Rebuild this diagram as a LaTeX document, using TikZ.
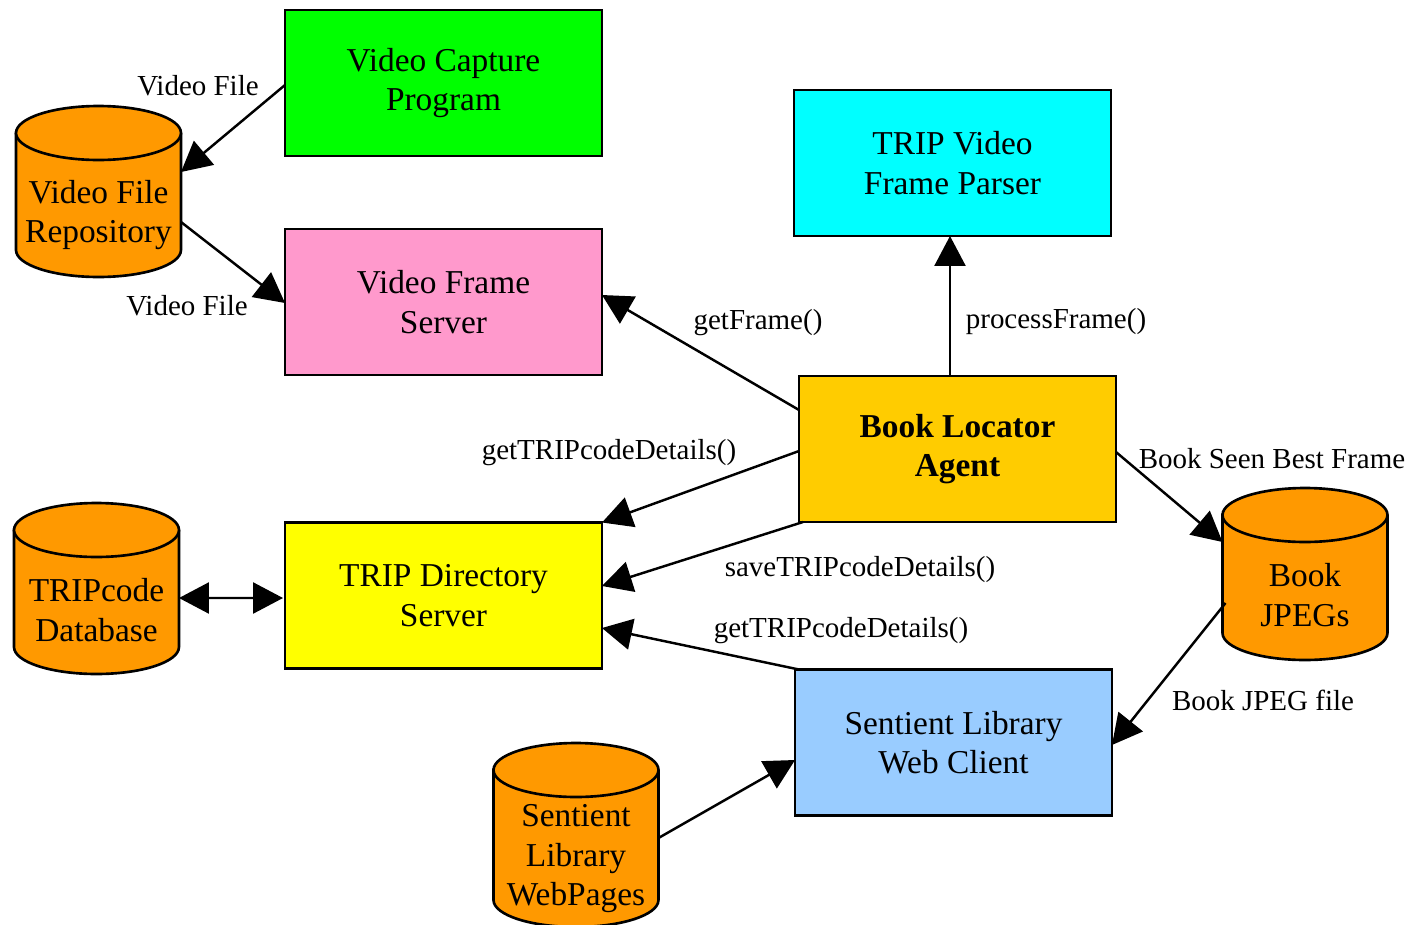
\documentclass[tikz,border=0pt]{standalone}
\usepackage{fontspec}
\setmainfont{Liberation Serif}
\usetikzlibrary{arrows.meta,calc}

% database drum: centre x, y of top ellipse, y of bottom ellipse
\newcommand\dbcylinder[3]{%
  \filldraw[cylline] (#1-82.5,#2) -- (#1-82.5,#3)
    arc[start angle=180,end angle=360,x radius=1.65cm,y radius=0.54cm]
    -- (#1+82.5,#2)
    arc[start angle=0,end angle=180,x radius=1.65cm,y radius=0.54cm] -- cycle;
  \draw[cylline] (#1-82.5,#2)
    arc[start angle=180,end angle=360,x radius=1.65cm,y radius=0.54cm];
}

\tikzset{
  procbox/.style={draw=black, line width=1.6pt, minimum width=6.34cm,
    minimum height=2.92cm, align=center, outer sep=0pt,
    font=\fontsize{19}{22.5}\selectfont},
  dbtext/.style={minimum width=3.3cm, inner sep=0pt, outer sep=0pt,
    align=center, font=\fontsize{19}{22.5}\selectfont},
  cylline/.style={draw=black, fill=drumorange, line width=1.5pt},
  flow/.style={line width=1.4pt, -{Triangle[length=0.6cm,width=0.62cm]}},
  lbl/.style={font=\fontsize{16.5}{19}\selectfont, inner sep=0pt}
}
\definecolor{capgreen}{HTML}{00FF00}
\definecolor{parsercyan}{HTML}{00FFFF}
\definecolor{serverpink}{HTML}{FF99CC}
\definecolor{agentgold}{HTML}{FFCC00}
\definecolor{diryellow}{HTML}{FFFF00}
\definecolor{clientblue}{HTML}{99CCFF}
\definecolor{drumorange}{HTML}{FF9900}

\begin{document}
\begin{tikzpicture}[x=0.02cm,y=-0.02cm]
\useasboundingbox (0,0) rectangle (1411,924);

% process boxes
\node[procbox, fill=capgreen]   (vcp)  at (443.5,83)    {Video Capture\\Program};
\node[procbox, fill=parsercyan] (tvfp) at (952.5,163)   {TRIP Video\\Frame Parser};
\node[procbox, fill=serverpink] (vfs)  at (443.5,302)   {Video Frame\\Server};
\node[procbox, fill=agentgold, font=\fontsize{19}{22.5}\selectfont\bfseries]
                                (bla)  at (957.5,449)   {Book Locator\\Agent};
\node[procbox, fill=diryellow]  (tds)  at (443.5,595.5) {TRIP Directory\\Server};
\node[procbox, fill=clientblue] (slwc) at (953.5,742.5) {Sentient Library\\Web Client};

% data stores
\dbcylinder{98.5}{133}{250}
\node[dbtext] (vfr) at (98.5,215) {Video File\\Repository};
\dbcylinder{96.5}{530}{647}
\node[dbtext] (tcdb) at (96.5,610) {TRIPcode\\Database};
\dbcylinder{1305}{515}{633}
\node[dbtext] (bj) at (1305,595) {Book\\JPEGs};
\dbcylinder{576}{770}{900}
\node[dbtext] (slwp) at (576,859) {Sentient\\Library\\WebPages};

% connectors
\draw[flow] ($(vcp.west)+(0,2)$) -- ($(vfr.east)+(0,-43)$);
\draw[flow] ($(vfr.east)+(0,7)$) -- ($(vfs.west)+(0,1)$);
\draw[flow] ($(bla.west)+(0,-39)$) -- ($(vfs.east)+(0,-7)$);
\draw[flow] ($(bla.north)+(-7.5,0)$) -- ($(tvfp.south)+(-2.5,0)$);
\draw[flow] ($(bla.west)+(0,2)$) -- (tds.north east);
\draw[flow] ($(bla.south west)+(4,0)$) -- ($(tds.east)+(0,-9.5)$);
\draw[flow] ($(slwc.north west)+(4,0)$) -- ($(tds.east)+(0,32.5)$);
\draw[flow] ($(bla.east)+(0,3)$) -- ($(bj.west)+(0,-53)$);
\draw[flow] ($(bj.west)+(3,8)$) -- ($(slwc.east)+(0,2.5)$);
\draw[flow] ($(slwp.east)+(0,-21)$) -- ($(slwc.west)+(0,17.5)$);
\draw[flow, {Triangle[length=0.6cm,width=0.62cm]}-{Triangle[length=0.6cm,width=0.62cm]}]
  ($(tcdb.east)+(0,-12)$) -- ($(tds.west)+(-2,2.5)$);

% connector labels
\node[lbl] (l1) at (198,86)   {Video File};
\node[lbl] (l2) at (187,306)  {Video File};
\node[lbl] (l3) at (758,323)  {getFrame()};
\node[lbl] (l4) at (1056,322) {processFrame()};
\node[lbl] (l5) at (609,453)  {getTRIPcodeDetails()};
\node[lbl] (l6) at (860,570)  {saveTRIPcodeDetails()};
\node[lbl] (l7) at (841,631)  {getTRIPcodeDetails()};
\node[lbl] (l8) at (1272,459) {Book Seen Best Frame};
\node[lbl] (l9) at (1263,700) {Book JPEG file};
\end{tikzpicture}
\end{document}
